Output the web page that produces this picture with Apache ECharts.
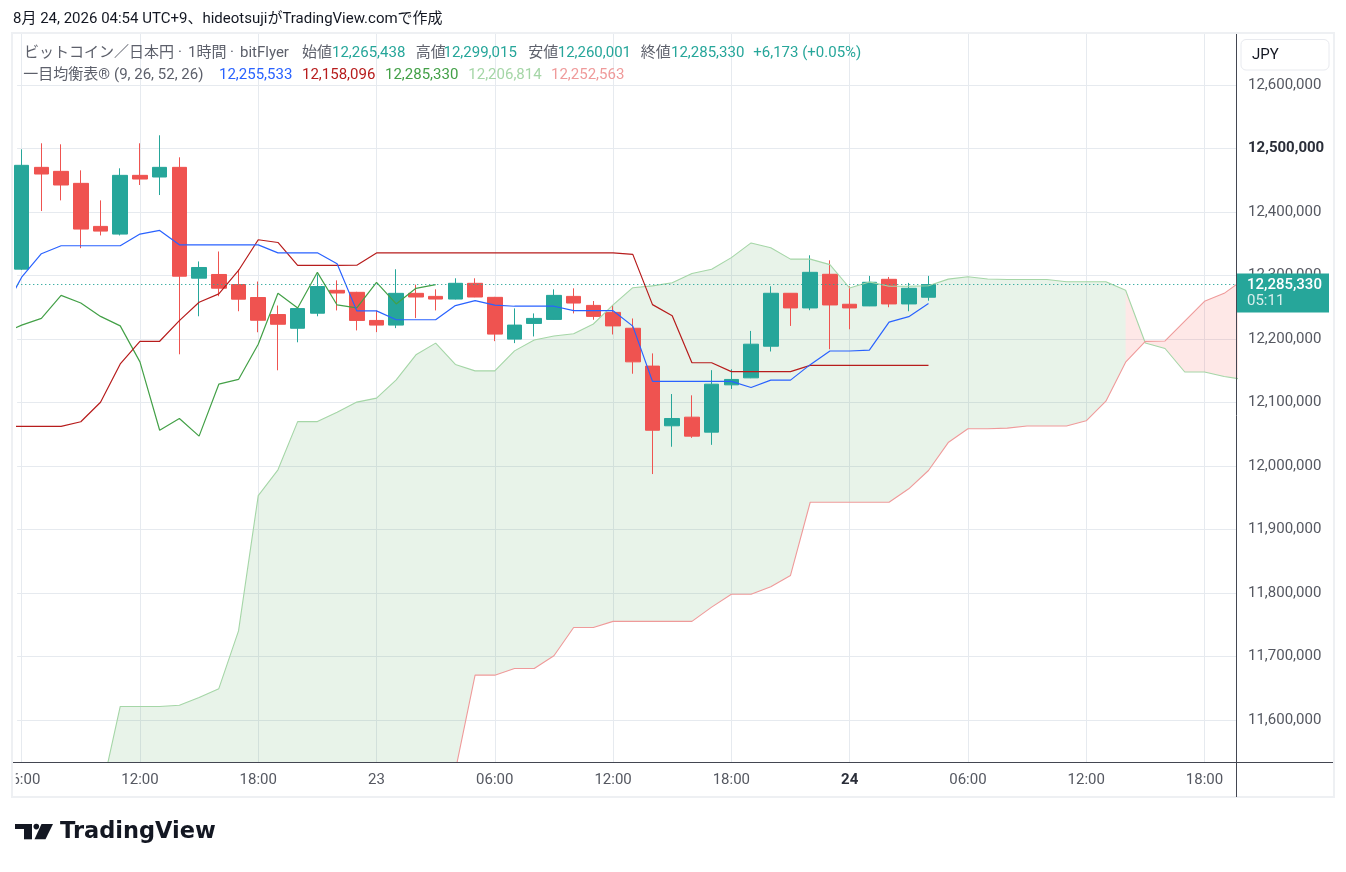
<!DOCTYPE html>
<html>
<head>
<meta charset="utf-8">
<script src="https://cdn.jsdelivr.net/npm/echarts@6.0.0/dist/echarts.min.js"></script>
<style>
html,body{margin:0;padding:0;background:#ffffff;}
#chart{width:1346px;height:872px;}
</style>
</head>
<body>
<div id="chart"></div>
<script>
// ---- hourly candles, hours relative to Aug 23 00:00 (UTC+9) ----
const candleHours = [-18,-17,-16,-15,-14,-13,-12,-11,-10,-9,-8,-7,-6,-5,-4,-3,-2,-1,0,1,2,3,4,5,6,7,8,9,10,11,12,13,14,15,16,17,18,19,20,21,22,23,24,25,26,27,28];
const opens = [12309700,12470000,12463700,12444800,12377000,12364900,12457400,12454800,12470000,12295500,
  12301300,12285500,12265000,12238200,12216600,12240300,12276300,12273200,12228900,12221600,
  12271600,12266800,12262600,12287400,12265300,12199500,12224200,12230500,12266800,12252600,
  12241600,12216600,12157000,12063000,12076600,12053000,12127500,12138500,12188300,12271700,
  12248600,12301600,12254400,12251800,12293700,12254900,12265438];
const closes = [12473200,12459500,12442200,12372800,12369600,12457400,12451600,12470000,12298600,12312300,
  12279700,12262400,12229200,12222900,12247600,12282300,12272100,12228900,12221600,12271600,
  12265800,12262600,12287400,12265800,12207400,12221600,12232100,12268400,12256300,12235300,
  12220300,12163700,12056000,12074500,12046700,12128500,12136000,12191500,12271700,12248600,
  12304700,12253300,12248600,12289000,12254900,12279500,12285330];
const lows = [12308500,12401200,12418000,12342800,12362800,12362800,12442200,12426400,12175600,12235500,
  12267100,12243400,12210300,12150400,12194500,12235500,12244700,12213200,12210500,12216800,
  12232600,12244700,12262000,12265500,12196300,12193200,12203700,12230000,12240000,12230000,
  12206800,12145000,11987000,12030000,12044000,12033000,12121000,12138000,12180000,12220300,
  12245000,12183600,12215000,12251500,12249700,12243400,12260001];
const highs = [12498400,12507900,12506300,12465300,12418000,12468500,12507900,12520500,12485800,12321800,
  12337500,12309200,12290200,12252400,12248000,12301300,12292000,12274000,12244700,12309500,
  12285300,12277900,12295300,12295300,12266000,12247900,12240000,12277900,12279500,12259500,
  12253300,12232000,12177000,12113000,12111000,12150600,12152000,12212400,12282700,12272000,
  12331500,12323600,12282700,12299000,12297400,12288000,12299015];

// ---- Ichimoku: conversion (tenkan) and base (kijun) lines ----
const lineHours = [-19,-18,-17,-16,-15,-14,-13,-12,-11,-10,-9,-8,-7,-6,-5,-4,-3,-2,-1,0,1,2,3,4,5,6,7,8,9,10,11,12,13,14,15,16,17,18,19,20,21,22,23,24,25,26,27,28];
const tenkan = [12240000,12297000,12334000,12346500,12346500,12346500,12346500,12364900,12370700,12348000,
  12348000,12348000,12348000,12348000,12335400,12335400,12335400,12318100,12244000,12244000,
  12230000,12230000,12230000,12252300,12260000,12252900,12251300,12251300,12251300,12244300,
  12244300,12244300,12220000,12133000,12133000,12133000,12133000,12133000,12123300,12134900,
  12134900,12159300,12180800,12180800,12182300,12226300,12234800,12255533];
const kijun = [12062000,12062000,12062000,12062000,12069400,12100000,12160400,12196100,12196100,12228700,
  12257600,12270800,12307600,12356000,12351700,12315500,12315500,12315500,12315800,12335300,
  12335300,12335300,12335300,12335300,12335300,12335300,12335300,12335300,12335300,12335300,
  12335300,12335300,12333000,12253800,12236400,12162300,12162300,12148300,12148300,12148300,
  12148300,12158096,12158096,12158096,12158096,12158096,12158096,12158096];
const chikouShift = 25;

// ---- Ichimoku: leading spans (cloud) ----
const cloudHours = [-14,-13,-12,-11,-10,-9,-8,-7,-6,-5,-4,-3,-2,-1,0,1,2,3,4,5,6,7,8,9,10,11,12,13,14,15,16,17,18,19,20,21,22,23,24,25,26,27,28,29,30,31,32,33,34,35,36,37,38,39,40,41,42,43,44];
const senkouA = [11480000,11621000,11621000,11621000,11623000,11635000,11649000,11740000,11953000,11993700,
  12069600,12069600,12084500,12100300,12106600,12135400,12174800,12193200,12159600,12149500,
  12149500,12181000,12198000,12204300,12207900,12223300,12253500,12280500,12283400,12288300,
  12302800,12309400,12327800,12351000,12343500,12325500,12325500,12316800,12280000,12289600,
  12282700,12282700,12283500,12294000,12297700,12294100,12293300,12293300,12293300,12289800,
  12289800,12289800,12276500,12193400,12184700,12147700,12147700,12140700,12135800];
const senkouB = [11450000,11450000,11450000,11450000,11450000,11450000,11450000,11450000,11450000,11450000,
  11450000,11450000,11450000,11450000,11450000,11450000,11450000,11450000,11520000,11670300,
  11670300,11680800,11680800,11700800,11745400,11745400,11755000,11755000,11755000,11755000,
  11755000,11777500,11797600,11797600,11809500,11827400,11942600,11942600,11942600,11942600,
  11942600,11963800,11992600,12036600,12058300,12058300,12059400,12062600,12062600,12062600,
  12070800,12101700,12163100,12196000,12196600,12228000,12259000,12271600,12294000];

// ---- axis ticks ----
const xTickHours = [-18,-12,-6,0,6,12,18,24,30,36,42];
const xTickLabels = ['06:00','12:00','18:00','23','06:00','12:00','18:00','24','06:00','12:00','18:00'];
const yTickValues = [11600000,11700000,11800000,11900000,12000000,12100000,12200000,12300000,12400000,12500000,12600000];

const FONT = 'Roboto, "Noto Sans CJK JP", sans-serif';
const UP = '#26a69a', DOWN = '#ef5350';
const fmt = v => String(Math.round(v)).replace(/\B(?=(\d{3})+(?!\d))/g, ',');

const candleData = candleHours.map((h, i) => [h, opens[i], closes[i], lows[i], highs[i]]);
const chikouData = candleHours.map((h, i) => [h - chikouShift, closes[i]]);
const pair = (xs, ys) => xs.map((x, i) => [x, ys[i]]);

// cloud runs: consecutive segments with same colour (colour decided by the later point)
const runs = [];
(function () {
  let start = 0, cur = null;
  for (let i = 0; i < cloudHours.length - 1; i++) {
    const up = senkouA[i + 1] >= senkouB[i + 1];
    if (cur === null) { cur = up; start = i; }
    else if (up !== cur) { runs.push([start, i, cur ? 1 : 0]); start = i; cur = up; }
  }
  runs.push([start, cloudHours.length - 1, cur ? 1 : 0]);
})();

const chart = echarts.init(document.getElementById('chart'));
const lastClose = closes[closes.length - 1];

chart.setOption({
  animation: false,
  backgroundColor: '#ffffff',
  grid: { left: 13, right: 109, top: 34, bottom: 110, containLabel: false },
  xAxis: {
    type: 'value', min: -18.231, max: 43.65,
    axisLine: { show: false },
    axisTick: { show: false, customValues: xTickHours },
    splitLine: { show: true, lineStyle: { color: '#e6eaef', width: 1 } },
    axisLabel: {
      customValues: xTickHours, margin: 11,
      color: '#555861', fontFamily: FONT, fontSize: 15,
      formatter: v => {
        const i = xTickHours.indexOf(Math.round(v));
        if (i < 0) return '';
        const s = xTickLabels[i];
        return s === '24' ? '{b|' + s + '}' : s;
      },
      rich: { b: { fontWeight: 'bold', color: '#2a2e39', fontFamily: FONT, fontSize: 15 } }
    }
  },
  yAxis: {
    type: 'value', position: 'right', min: 11533543, max: 12680000, scale: true,
    axisLine: { show: false },
    axisTick: { show: false, customValues: yTickValues },
    splitLine: { show: true, lineStyle: { color: '#e6eaef', width: 1 } },
    axisLabel: {
      customValues: yTickValues, margin: 11,
      color: '#555861', fontFamily: FONT, fontSize: 15,
      formatter: v => v === 12500000 ? '{b|' + fmt(v) + '}' : fmt(v),
      rich: { b: { fontWeight: 'bold', color: '#2a2e39', fontFamily: FONT, fontSize: 15 } }
    }
  },
  series: [
    {
      type: 'custom', name: 'cloud', clip: true, silent: true,
      data: runs.map(r => [cloudHours[r[0]], cloudHours[r[1]], r[2]]),
      encode: { x: [0, 1], y: 2 },
      renderItem: (params, api) => {
        const r = runs[params.dataIndex];
        const pts = [];
        for (let k = r[0]; k <= r[1]; k++) pts.push(api.coord([cloudHours[k], senkouA[k]]));
        for (let k = r[1]; k >= r[0]; k--) pts.push(api.coord([cloudHours[k], senkouB[k]]));
        return {
          type: 'polygon', shape: { points: pts },
          style: { fill: r[2] ? 'rgba(67,160,71,0.12)' : 'rgba(244,67,54,0.12)' }
        };
      }
    },
    { type: 'line', name: 'senkouA', data: pair(cloudHours, senkouA), showSymbol: false, silent: true,
      lineStyle: { color: '#a5d6a7', width: 1.1 } },
    { type: 'line', name: 'senkouB', data: pair(cloudHours, senkouB), showSymbol: false, silent: true,
      lineStyle: { color: '#ef9a9a', width: 1.1 } },
    { type: 'line', name: 'chikou', data: chikouData, showSymbol: false, silent: true,
      lineStyle: { color: '#43a047', width: 1.2 } },
    { type: 'line', name: 'kijun', data: pair(lineHours, kijun), showSymbol: false, silent: true,
      lineStyle: { color: '#b71c1c', width: 1.2 } },
    { type: 'line', name: 'tenkan', data: pair(lineHours, tenkan), showSymbol: false, silent: true,
      lineStyle: { color: '#2962ff', width: 1.2 } },
    {
      type: 'candlestick', name: 'BTCJPY', data: candleData, clip: true, silent: true,
      encode: { x: 0, y: [1, 2, 3, 4] },
      barWidth: 15,
      itemStyle: { color: UP, color0: DOWN, borderColor: UP, borderColor0: DOWN, borderWidth: 1 },
      markLine: {
        silent: true, symbol: ['none', 'none'], animation: false,
        label: { show: false },
        lineStyle: { color: UP, type: [1.2, 2.8], width: 1.2, opacity: 1 },
        data: [{ yAxis: lastClose }]
      }
    }
  ]
});

// ---- text, frame and price tag ----
const yPx = chart.convertToPixel({ yAxisIndex: 0 }, lastClose);
const txt = (x, y, text, fill, extra) => Object.assign({
  type: 'text', x: x, y: y, z: 100, silent: true,
  style: Object.assign({ text: text, fill: fill, font: '15px ' + FONT, verticalAlign: 'middle', align: 'left' }, extra || {})
});
const GRAY = '#5d606b';
const gfx = [
  // cover left of pane in the time-scale strip
  { type: 'rect', z: 85, silent: true, shape: { x: 0, y: 763, width: 15.8, height: 34 }, style: { fill: '#ffffff' } },
  // outer frame
  { type: 'rect', z: 90, silent: true, shape: { x: 12, y: 33, width: 1322, height: 764 },
    style: { fill: null, stroke: '#eef0f3', lineWidth: 2 } },
  // separators
  { type: 'line', z: 96, silent: true, shape: { x1: 13, y1: 762.5, x2: 1333, y2: 762.5 }, style: { stroke: '#434651', lineWidth: 1 } },
  { type: 'line', z: 96, silent: true, shape: { x1: 1236.5, y1: 34, x2: 1236.5, y2: 797 }, style: { stroke: '#434651', lineWidth: 1 } },
  // header
  txt(13, 19, '8月 24, 2026 04:54 UTC+9、hideotsujiがTradingView.comで作成', '#131722'),
  // legend line 1
  txt(24, 53, 'ビットコイン／日本円', GRAY),
  txt(180, 53, '·', GRAY, { align: 'center' }),
  txt(188, 53, '1時間', GRAY),
  txt(232, 53, '·', GRAY, { align: 'center' }),
  txt(240, 53, 'bitFlyer', GRAY),
  txt(302, 53, '始値', GRAY), txt(332, 53, '12,265,438', UP),
  txt(415.7, 53, '高値', GRAY), txt(443.5, 53, '12,299,015', UP),
  txt(528.3, 53, '安値', GRAY), txt(557.7, 53, '12,260,001', UP),
  txt(640.7, 53, '終値', GRAY), txt(671, 53, '12,285,330', UP),
  txt(753.3, 53, '+6,173 (+0.05%)', UP),
  // legend line 2
  txt(23.3, 75, '一目均衡表®', GRAY),
  txt(114, 75, '(9, 26, 52, 26)', GRAY),
  txt(219, 75, '12,255,533', '#2962ff'),
  txt(302, 75, '12,158,096', '#b71c1c'),
  txt(385, 75, '12,285,330', '#43a047'),
  txt(468.3, 75, '12,206,814', '#a5d6a7'),
  txt(551, 75, '12,252,563', '#ef9a9a'),
  // JPY box
  { type: 'rect', z: 100, silent: true, shape: { x: 1241, y: 39.5, width: 88, height: 30.5, r: 5 },
    style: { fill: '#ffffff', stroke: '#e8eaef', lineWidth: 1 } },
  txt(1252, 55, 'JPY', '#131722'),
  // price tag
  { type: 'rect', z: 100, silent: true, shape: { x: 1237, y: yPx - 11, width: 92, height: 39 }, style: { fill: UP } },
  txt(1247, yPx + 0.5, fmt(lastClose), '#ffffff', { font: '500 15px ' + FONT }),
  txt(1247, yPx + 17, '05:11', 'rgba(255,255,255,0.82)'),
  // TradingView logo
  { type: 'rect', z: 100, silent: true, shape: { x: 15, y: 824, width: 17, height: 5 }, style: { fill: '#131722' } },
  { type: 'rect', z: 100, silent: true, shape: { x: 24, y: 824, width: 8, height: 15.3 }, style: { fill: '#131722' } },
  { type: 'circle', z: 100, silent: true, shape: { cx: 36.3, cy: 826.6, r: 2.8 }, style: { fill: '#131722' } },
  { type: 'polygon', z: 100, silent: true, shape: { points: [[41.5, 824], [53, 824], [45.5, 839.3], [34.5, 839.3]] }, style: { fill: '#131722' } },
  txt(60, 832.5, 'TradingView', '#131722', { font: 'bold 22.5px "DejaVu Sans", sans-serif' })
];
chart.setOption({ graphic: gfx });
</script>
</body>
</html>
